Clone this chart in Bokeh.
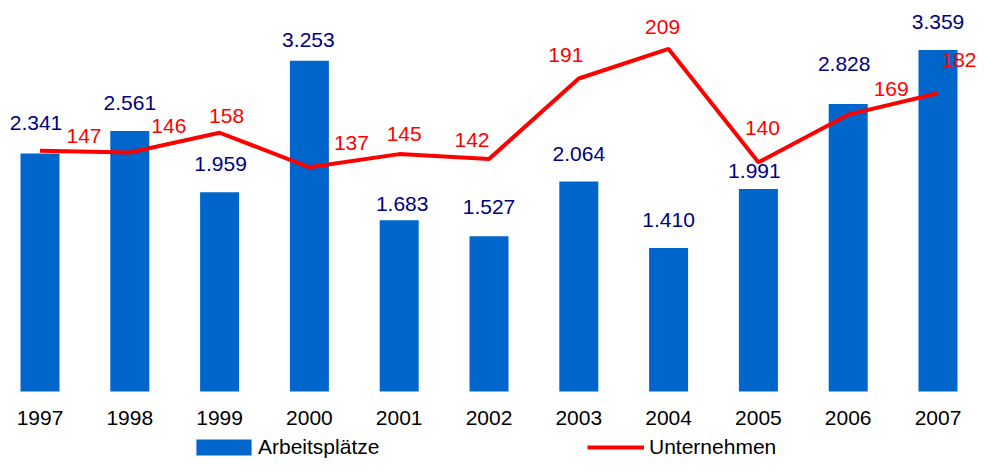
from bokeh.plotting import figure
from bokeh.models import (ColumnDataSource, Range1d, FixedTicker, Legend, LegendItem)
from bokeh.embed import file_html
from bokeh.resources import INLINE
from bokeh.core.properties import value

# ---- data ----
years = [1997, 1998, 1999, 2000, 2001, 2002, 2003, 2004, 2005, 2006, 2007]
year_labels = ["1997", "1998", "1999", "2000", "2001", "2002", "2003", "2004", "2005", "2006", "2007"]
arbeitsplaetze = [2341, 2561, 1959, 3253, 1683, 1527, 2064, 1410, 1991, 2828, 3359]
arbeitsplaetze_labels = ["2.341", "2.561", "1.959", "3.253", "1.683", "1.527", "2.064", "1.410", "1.991", "2.828", "3.359"]
unternehmen = [147, 146, 158, 137, 145, 142, 191, 209, 140, 169, 182]
unternehmen_labels = ["147", "146", "158", "137", "145", "142", "191", "209", "140", "169", "182"]

# label placement (pixel offsets, style only)
a_dx = [-4, 0, 1, -1, 3, 0, 0, 0, -4, -4, 0]
a_dy = [-30, -28, -28, -21, -16, -29, -28, -28, -18, -40, -28]
u_dx = [44, 39, 7, 42, 5, -17, -13, -6, 4, 43, 21]
u_dy = [-15, -26, -17, -24, -20, -19, -23, -22, -34, -26, -33]

FONT = "Liberation Sans"
BAR = "#0066CC"
NAVY = "#000080"
RED = "#FF0000"

W, H = 978, 459
base_bar = 391   # pixel row of the bar baseline
base_line = 392  # pixel row of the line's zero

x0 = 1997 - 39.5 / 89.8
x1 = x0 + W / 89.8
bar_start = -(H - base_bar) / 0.1017
bar_end = base_bar / 0.1017
line_start = -(H - base_line) / 1.644
line_end = base_line / 1.644

p = figure(width=W, height=H, output_backend="svg", toolbar_location=None,
           x_range=Range1d(x0, x1), y_range=Range1d(bar_start, bar_end),
           min_border=0, y_axis_location=None, outline_line_color=None)
p.grid.visible = False
p.extra_y_ranges = {"u": Range1d(line_start, line_end)}

src = ColumnDataSource(dict(x=years, a=arbeitsplaetze, al=arbeitsplaetze_labels,
                            adx=a_dx, ady=a_dy,
                            u=unternehmen, ul=unternehmen_labels, dx=u_dx, dy=u_dy))

bars = p.vbar(x="x", top="a", bottom=0, width=39 / 89.8, source=src,
              fill_color=BAR, line_color=None)
line = p.line(x="x", y="u", source=src, line_color=RED, line_width=4, y_range_name="u")

p.text(x="x", y="a", text="al", source=src, text_align="center", text_baseline="alphabetic",
       x_offset="adx", y_offset="ady",
       text_font=value(FONT), text_font_size="21px", text_color=NAVY)
p.text(x="x", y="u", text="ul", source=src, y_range_name="u", text_align="center",
       text_baseline="alphabetic", x_offset="dx", y_offset="dy",
       text_font=value(FONT), text_font_size="21px", text_color=RED)

ax = p.xaxis[0]
ax.fixed_location = 0
ax.ticker = FixedTicker(ticks=years)
ax.major_label_overrides = {y: l for y, l in zip(years, year_labels)}
ax.axis_line_color = None
ax.major_tick_line_color = None
ax.minor_tick_line_color = None
ax.major_tick_out = 0
ax.major_label_standoff = 19
ax.major_label_text_font = FONT
ax.major_label_text_font_size = "21px"
ax.major_label_text_color = "black"

common = dict(glyph_height=20, padding=0, margin=0, border_line_color=None,
              background_fill_alpha=0, label_text_font=FONT,
              label_text_font_size="21px", label_text_color="black")
leg1 = Legend(items=[LegendItem(label="Arbeitsplätze", renderers=[bars])],
              location=(189, 0), glyph_width=69, label_standoff=0, **common)
leg2 = Legend(items=[LegendItem(label="Unternehmen", renderers=[line])],
              location=(587, 0), glyph_width=57, label_standoff=5, **common)
p.add_layout(leg1)
p.add_layout(leg2)

open("out.html", "w").write(file_html(p, INLINE))
